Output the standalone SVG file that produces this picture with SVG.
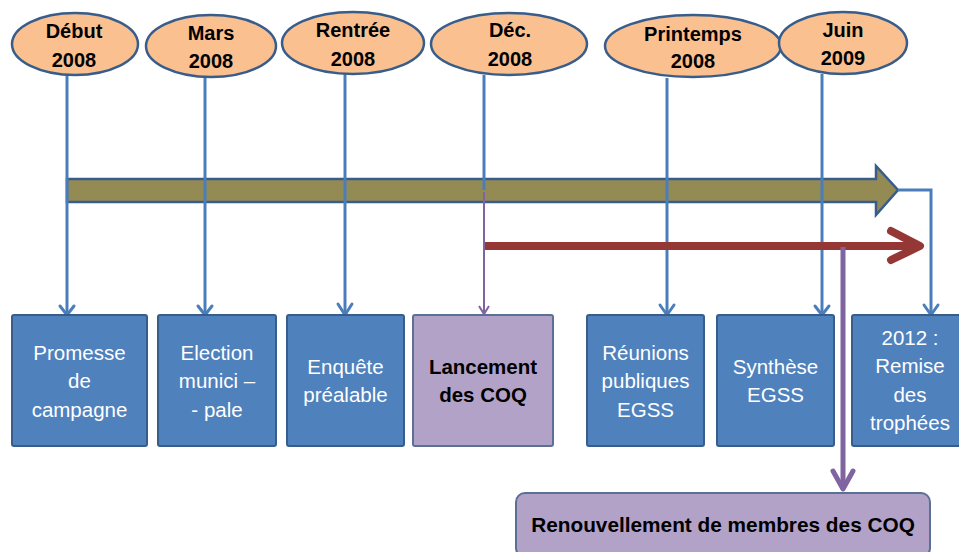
<svg xmlns="http://www.w3.org/2000/svg" width="959" height="552" viewBox="0 0 959 552">
<style>
.ell{fill:#FAC090;stroke:#385D8A;stroke-width:2.5}
.et{font-family:"Liberation Sans",Arial,sans-serif;font-weight:bold;font-size:20px;fill:#000;text-anchor:middle}
.box{fill:#4F81BD;stroke:#385D8A;stroke-width:2}
.pbox{fill:#B3A2C7;stroke:#5C6F95;stroke-width:2}
.bt{font-family:"Liberation Sans",Arial,sans-serif;font-size:20.5px;fill:#fff;text-anchor:middle}
.pt{font-family:"Liberation Sans",Arial,sans-serif;font-size:20.5px;font-weight:bold;fill:#000;text-anchor:middle}
.bl{stroke:#4A7EBB;stroke-width:3;fill:none}
.pl{stroke:#8064A2;stroke-width:2;fill:none}
</style>
<g id="timeline">
<path d="M67 179 H876 V166 L898 190 L876 215 V202 H67 Z" fill="#948A54" stroke="#385D8A" stroke-width="2.5"/>
</g>
<g id="connectors">
<line class="bl" x1="67" y1="75" x2="67" y2="314"/>
<line class="bl" x1="205" y1="77" x2="205" y2="314"/>
<line class="bl" x1="345" y1="74" x2="345" y2="314"/>
<line class="bl" x1="484" y1="75" x2="484" y2="190"/>
<line class="bl" x1="667" y1="78" x2="667" y2="314"/>
<line class="bl" x1="822" y1="74" x2="822" y2="314"/>
<path class="bl" d="M898 190 H931 V314"/>
<line x1="484" y1="246" x2="918" y2="246" stroke="#953735" stroke-width="8"/>
<path d="M891 231 L920 246 L891 260" fill="none" stroke="#953735" stroke-width="8" stroke-linecap="round" stroke-linejoin="round"/>
<line class="pl" x1="484" y1="192" x2="484" y2="313"/>
<path d="M479 306 L484 314 L489 306" fill="none" stroke="#8064A2" stroke-width="2"/>
<line x1="843" y1="247" x2="843" y2="488" stroke="#8064A2" stroke-width="5"/>
<path d="M833 471 L843 489 L853 471" fill="none" stroke="#8064A2" stroke-width="5" stroke-linecap="round" stroke-linejoin="round"/>
<g fill="none" stroke="#4A7EBB" stroke-width="3" stroke-linejoin="round" stroke-linecap="round">
<path d="M60 306 L67 315 L74 306"/>
<path d="M198 306 L205 315 L212 306"/>
<path d="M338 304 L345 315 L352 304"/>
<path d="M660 305 L667 315 L674 305"/>
<path d="M815 306 L822 315 L829 306"/>
<path d="M924 305 L931 315 L938 305"/>
</g>
</g>
<g id="e1"><ellipse class="ell" cx="75" cy="44" rx="63" ry="31"/><text class="et" x="74" y="38">Début</text><text class="et" x="74" y="67">2008</text></g>
<g id="e2"><ellipse class="ell" cx="211" cy="46" rx="65" ry="31"/><text class="et" x="211" y="40">Mars</text><text class="et" x="211" y="68">2008</text></g>
<g id="e3"><ellipse class="ell" cx="353" cy="43" rx="71" ry="31"/><text class="et" x="353" y="37">Rentrée</text><text class="et" x="353" y="66">2008</text></g>
<g id="e4"><ellipse class="ell" cx="509" cy="44" rx="78" ry="31"/><text class="et" x="510" y="37">Déc.</text><text class="et" x="510" y="66">2008</text></g>
<g id="e5"><ellipse class="ell" cx="693" cy="46" rx="88" ry="31"/><text class="et" x="693" y="41">Printemps</text><text class="et" x="693" y="68">2008</text></g>
<g id="e6"><ellipse class="ell" cx="843" cy="43" rx="64" ry="31"/><text class="et" x="843" y="37">Juin</text><text class="et" x="843" y="65">2009</text></g>
<g id="b1"><rect class="box" x="12" y="315" width="135" height="131" rx="2"/><text class="bt" x="79.5" y="360">Promesse</text><text class="bt" x="79.5" y="388">de</text><text class="bt" x="79.5" y="417">campagne</text></g>
<g id="b2"><rect class="box" x="158" y="315" width="118" height="131" rx="2"/><text class="bt" x="217" y="360">Election</text><text class="bt" x="217" y="388">munici –</text><text class="bt" x="217" y="417">- pale</text></g>
<g id="b3"><rect class="box" x="287" y="315" width="117" height="131" rx="2"/><text class="bt" x="345.5" y="374">Enquête</text><text class="bt" x="345.5" y="402">préalable</text></g>
<g id="b4"><rect class="pbox" x="413" y="315" width="140" height="131" rx="2"/><text class="pt" x="483" y="374">Lancement</text><text class="pt" x="483" y="402">des COQ</text></g>
<g id="b5"><rect class="box" x="587" y="315" width="117" height="131" rx="2"/><text class="bt" x="645.5" y="360">Réunions</text><text class="bt" x="645.5" y="388">publiques</text><text class="bt" x="645.5" y="417">EGSS</text></g>
<g id="b6"><rect class="box" x="717" y="315" width="117" height="131" rx="2"/><text class="bt" x="775.5" y="374">Synthèse</text><text class="bt" x="775.5" y="402">EGSS</text></g>
<g id="b7"><rect class="box" x="852" y="315" width="120" height="131" rx="2"/><text class="bt" x="910" y="345">2012 :</text><text class="bt" x="910" y="373">Remise</text><text class="bt" x="910" y="402">des</text><text class="bt" x="910" y="430">trophées</text></g>
<g id="b8"><rect class="pbox" x="516" y="493" width="414" height="64" rx="9"/><text class="pt" x="723" y="532" style="font-size:20.8px">Renouvellement de membres des COQ</text></g>
</svg>
